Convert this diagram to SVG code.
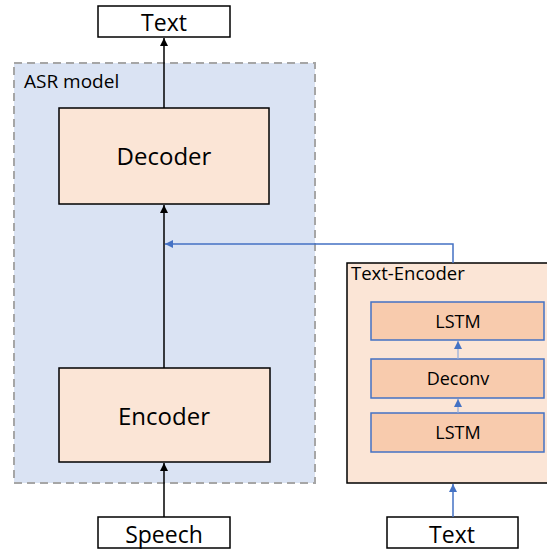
<svg xmlns="http://www.w3.org/2000/svg" width="547" height="550" viewBox="0 0 547 550">
<defs>
<style>
text{font-family:"Open Sans","Liberation Sans",sans-serif;fill:#000}
.io{fill:#fff;stroke:#000;stroke-width:1.5}
.blk{fill:#fbe5d6;stroke:#000;stroke-width:1.5}
.lay{fill:#f8cbad;stroke:#4472c4;stroke-width:1.5}
.k{stroke:#000;stroke-width:1.5;fill:none}
.b{stroke:#4472c4;stroke-width:1.5;fill:none}
.s{stroke:#8faadc;stroke-width:1.2;fill:none}
</style>
<marker id="ak" viewBox="0 0 10 10" refX="10" refY="5" markerWidth="8" markerHeight="8" markerUnits="userSpaceOnUse" orient="auto"><path d="M0,0 L10,5 L0,10 z" fill="#000"/></marker>
<marker id="ab" viewBox="0 0 10 10" refX="10" refY="5" markerWidth="8" markerHeight="8" markerUnits="userSpaceOnUse" orient="auto"><path d="M0,0 L10,5 L0,10 z" fill="#4472c4"/></marker>
</defs>
<g id="asr">
<rect x="14" y="63" width="301" height="420" fill="#dae3f3" stroke="#a6a6a6" stroke-width="2" stroke-dasharray="8,5"/>
<text x="24" y="88" font-size="19">ASR model</text>
</g>
<g id="text-out"><rect class="io" x="98" y="6" width="132" height="31"/><text x="164" y="31" font-size="23" text-anchor="middle">Text</text></g>
<g id="decoder"><rect class="blk" x="59" y="108" width="210" height="96"/><text x="164" y="165" font-size="24" text-anchor="middle">Decoder</text></g>
<g id="encoder"><rect class="blk" x="59" y="368" width="211" height="94"/><text x="164" y="425" font-size="24" text-anchor="middle">Encoder</text></g>
<g id="speech"><rect class="io" x="98" y="517" width="132" height="31"/><text x="164" y="543" font-size="23" text-anchor="middle">Speech</text></g>
<g id="text-encoder">
<rect x="347" y="263" width="202" height="220" fill="#fbe5d6" stroke="#000" stroke-width="1.5"/>
<text x="351" y="280" font-size="18.5">Text-Encoder</text>
</g>
<g id="lstm-top"><rect class="lay" x="371" y="302" width="173" height="38"/><text x="458" y="328" font-size="18" text-anchor="middle">LSTM</text></g>
<g id="deconv"><rect class="lay" x="371" y="359" width="173" height="39"/><text x="458" y="385" font-size="18" text-anchor="middle">Deconv</text></g>
<g id="lstm-bottom"><rect class="lay" x="371" y="413" width="173" height="39"/><text x="458" y="439" font-size="18" text-anchor="middle">LSTM</text></g>
<g id="text-in"><rect class="io" x="387" y="517" width="131" height="31"/><text x="452" y="543" font-size="23" text-anchor="middle">Text</text></g>
<g id="connectors">
<line class="k" x1="164" y1="108" x2="164" y2="38" marker-end="url(#ak)"/>
<line class="k" x1="164" y1="368" x2="164" y2="205" marker-end="url(#ak)"/>
<line class="k" x1="164" y1="517" x2="164" y2="463" marker-end="url(#ak)"/>
<polyline class="b" points="453,263 453,244 165,244" marker-end="url(#ab)"/>
<line class="b" x1="453" y1="517" x2="453" y2="484" marker-end="url(#ab)"/>
<line class="s" x1="458" y1="359" x2="458" y2="341" marker-end="url(#ab)"/>
<line class="s" x1="458" y1="413" x2="458" y2="399" marker-end="url(#ab)"/>
</g>
</svg>
